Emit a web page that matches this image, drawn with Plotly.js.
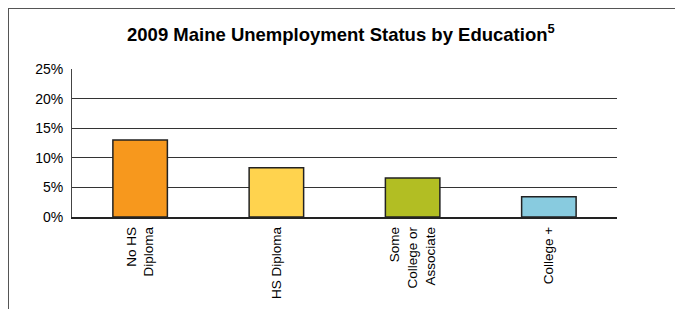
<!DOCTYPE html>
<html>
<head>
<meta charset="utf-8">
<script src="https://cdn.plot.ly/plotly-3.0.1.min.js"></script>
<style>
html,body{margin:0;padding:0;background:#fff;}
#wrap{position:relative;width:675px;height:309px;}
#chart{width:675px;height:309px;}
#frame{position:absolute;left:8px;top:8px;right:0;bottom:0;border-left:1px solid #555;border-top:1px solid #555;pointer-events:none;}
</style>
</head>
<body>
<div id="wrap"><div id="chart"></div><div id="frame"></div></div>
<script>
const categories = ["No HS<br>Diploma", "HS Diploma", "Some<br>College or<br>Associate", "College +"];
const values = [0.130, 0.083, 0.066, 0.034];
const colors = ["#F7981D", "#FFD34E", "#B2BE23", "#88CBDF"];
const yTicks = [0, 0.05, 0.10, 0.15, 0.20, 0.25];
const yTickLabels = ["0%", "5%", "10%", "15%", "20%", "25%"];

Plotly.newPlot("chart", [{
  type: "bar",
  x: categories,
  y: values,
  width: 0.4,
  marker: {color: colors, line: {color: "#222", width: 1.5}},
  hoverinfo: "none"
}], {
  width: 675, height: 309,
  margin: {l: 72, r: 58, t: 69, b: 92},
  paper_bgcolor: "#fff", plot_bgcolor: "#fff",
  font: {family: "Liberation Sans, Arial, sans-serif", color: "#000", size: 13},
  title: {text: "<b>2009 Maine Unemployment Status by Education<sup>5</sup></b>", font: {size: 18.5, color: "#000"}, x: 0.505, xanchor: "center", y: 0.888, yanchor: "middle"},
  xaxis: {
    tickangle: -90, showline: true, linecolor: "#222", linewidth: 1.5,
    ticks: "", showgrid: false, tickfont: {size: 13.5}, fixedrange: true,
    ticklabelstandoff: 3
  },
  yaxis: {
    range: [0, 0.25], tickvals: yTicks, ticktext: yTickLabels,
    showline: true, linecolor: "#444", linewidth: 1,
    gridcolor: "#333", gridwidth: 1, zeroline: false,
    ticks: "", ticklen: 0, tickfont: {size: 14}, fixedrange: true,
    ticklabelstandoff: 5
  },
  showlegend: false
}, {displayModeBar: false, staticPlot: true});
</script>
</body>
</html>
